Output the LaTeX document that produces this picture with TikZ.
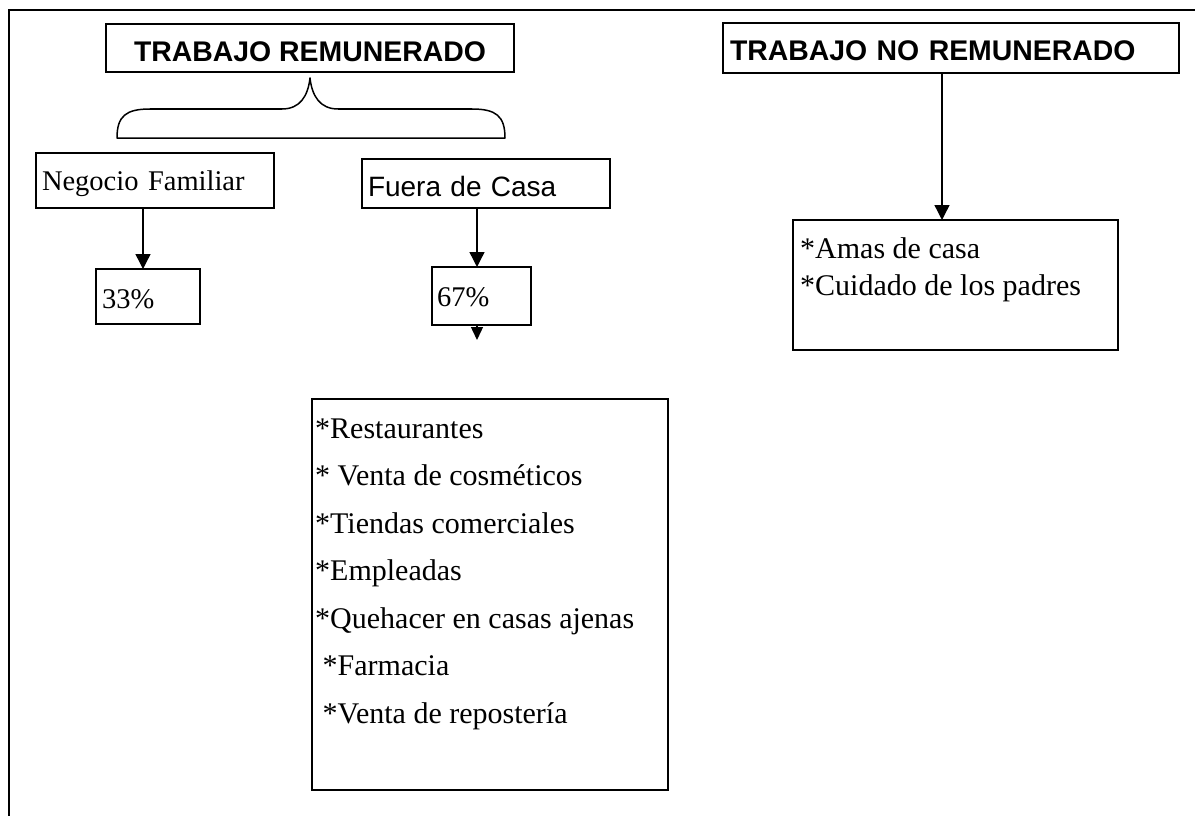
\documentclass[tikz,border=0pt]{standalone}
\usepackage{fontspec}
\setmainfont{Liberation Serif}
\newfontfamily\arialf{Liberation Sans}
\usetikzlibrary{arrows.meta}
\begin{document}
\begin{tikzpicture}[x=1pt,y=-1pt,
  bx/.style={draw, line width=1.5pt, inner ysep=0pt, outer sep=0pt},
  arr/.style={line width=1.4pt, -{Triangle[width=15pt,length=15pt]}},
  smallarr/.style={line width=1.4pt, -{Triangle[width=12pt,length=13pt]}},
  frameline/.style={line width=1.5pt},
  headf/.style={font=\arialf\bfseries\fontsize{28.4}{34}\selectfont},
  serf/.style={font=\fontsize{28.5}{34}\selectfont},
  listf/.style={font=\fontsize{30}{36}\selectfont},
  txt/.style={anchor=base west, inner sep=0pt}]
\useasboundingbox (0,0) rectangle (1195,816);
% page frame (clipped)
\draw[frameline] (1195,10) -- (9,10) -- (9,816);

% headers
\node[bx, headf, minimum width=408pt, minimum height=48pt, text height=30pt, text depth=2pt, align=center] (tr) at (310,48) {TRABAJO REMUNERADO};
\node[bx, headf, inner xsep=7pt, text width=442pt, minimum height=50pt, text height=28pt, text depth=2pt, align=left] (tnr) at (951,48) {TRABAJO NO REMUNERADO};

% brace under TRABAJO REMUNERADO
\draw[line width=1.5pt, line join=round] (117,138) .. controls (117,116) and (126,109) .. (150,109) -- (282,109)
  .. controls (300,109) and (308,96) .. (310,78)
  .. controls (312,96) and (320,109) .. (338,109) -- (472,109)
  .. controls (496,109) and (505,116) .. (505,138) -- cycle;

% second level
\node[bx, serf, inner xsep=6pt, text width=226pt, minimum height=55pt, text height=22pt, text depth=3pt, align=left] (nf) at (155,180.5) {Negocio Familiar};
\node[bx, font=\arialf\fontsize{28}{34}\selectfont, inner xsep=6pt, text width=236pt, minimum height=49pt, text height=28pt, text depth=3pt, align=left] (fc) at (486,183.5) {Fuera de Casa};

% percentages
\node[bx, serf, inner xsep=6pt, text width=92pt, minimum height=55pt, text height=26pt, text depth=3pt, align=left] (p33) at (148,296.5) {33\%};
\node[bx, serf, inner xsep=5pt, text width=89pt, minimum height=58pt, text height=23pt, text depth=3pt, align=left] (p67) at (481.5,296) {67\%};

% connector anchors
\coordinate (xa) at (143,0);
\coordinate (xb) at (477,0);
\coordinate (xc) at (942,0);
\coordinate (c67) at (477,340);

\draw[arr] (xa |- nf.south) -- (xa |- p33.north);
\draw[arr] (xb |- fc.south) -- (xb |- p67.north);
\draw[smallarr] (xb |- p67.south) -- (c67);

% list box
\node[bx, minimum width=356pt, minimum height=391pt] (lst) at (490,594.5) {};
\node[txt, listf] (l1) at (315,438) {*Restaurantes};
\node[txt, listf] (l2) at (315,485.5) {* Venta de cosméticos};
\node[txt, listf] (l3) at (315,533) {*Tiendas comerciales};
\node[txt, listf] (l4) at (315,580.5) {*Empleadas};
\node[txt, listf] (l5) at (315,628) {*Quehacer en casas ajenas};
\node[txt, listf] (l6) at (322.5,675.5) {*Farmacia};
\node[txt, listf] (l7) at (322.5,723) {*Venta de repostería};

% unpaid work box
\node[bx, minimum width=325pt, minimum height=130pt] (amas) at (955.5,285) {};
\node[txt, listf] (a1) at (800,258) {*Amas de casa};
\node[txt, listf] (a2) at (800,295) {*Cuidado de los padres};
\draw[arr] (xc |- tnr.south) -- (xc |- amas.north);
\end{tikzpicture}
\end{document}
